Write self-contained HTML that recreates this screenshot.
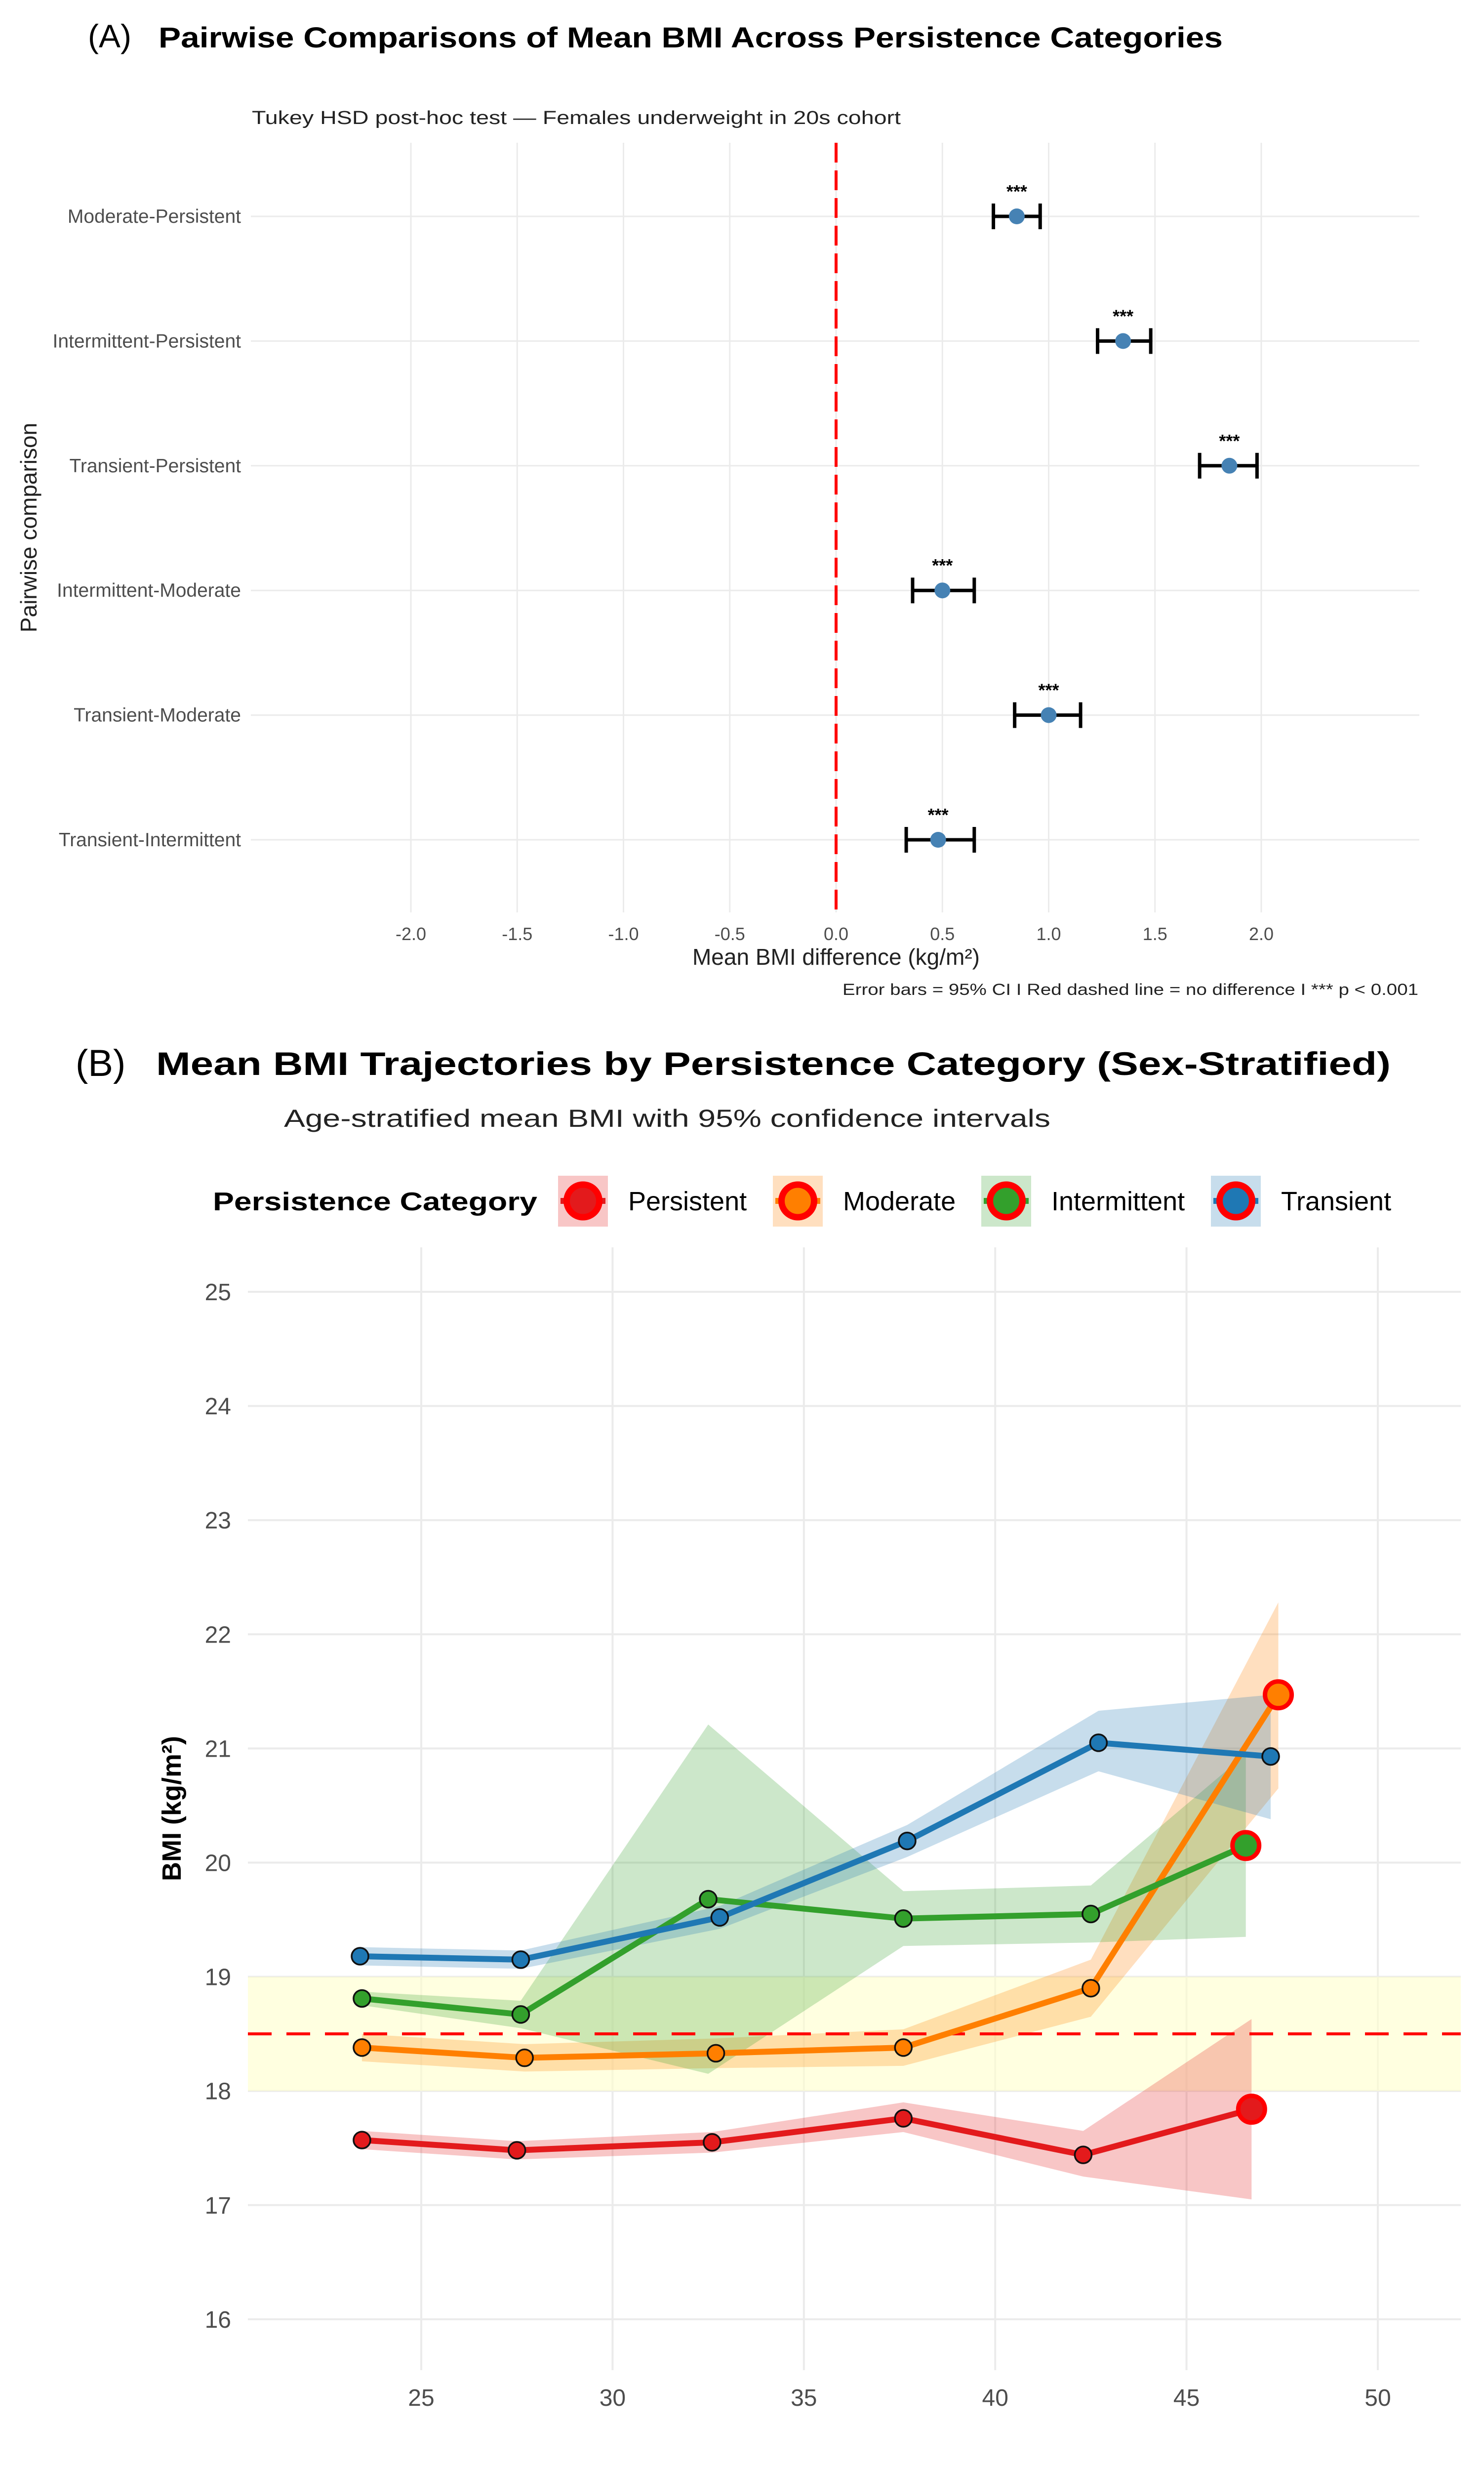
<!DOCTYPE html>
<html><head><meta charset="utf-8"><title>BMI Persistence Charts</title>
<style>
html,body{margin:0;padding:0;background:#fff;width:3005px;height:5136px;overflow:hidden;}
svg{display:block;font-family:"Liberation Sans",Arial,sans-serif;}
</style></head>
<body>
<svg id="root" width="3005" height="5136" viewBox="0 0 3005 5136" xmlns="http://www.w3.org/2000/svg">
  <rect x="0" y="0" width="3005" height="5136" fill="#fff"/>
  <text x="178" y="96" font-size="66" fill="#000">(A)</text>
  <text x="321" y="96" font-size="58" font-weight="bold" fill="#000" textLength="2155" lengthAdjust="spacingAndGlyphs">Pairwise Comparisons of Mean BMI Across Persistence Categories</text>
  <text x="510" y="251" font-size="38" fill="#222" textLength="1314" lengthAdjust="spacingAndGlyphs">Tukey HSD post-hoc test — Females underweight in 20s cohort</text>
  <g id="panelA"></g>
  <text x="1693" y="1953" font-size="46" fill="#222" text-anchor="middle">Mean BMI difference (kg/m²)</text>
  <text x="2872" y="2014" font-size="32" fill="#222" text-anchor="end" textLength="1166" lengthAdjust="spacingAndGlyphs">Error bars = 95% CI  I  Red dashed line = no difference  I  *** p &lt; 0.001</text>
  <text transform="translate(74,1068) rotate(-90)" font-size="46" fill="#222" text-anchor="middle">Pairwise comparison</text>

  <text x="153" y="2178" font-size="76" fill="#000">(B)</text>
  <text x="316" y="2176" font-size="66" font-weight="bold" fill="#000" textLength="2500" lengthAdjust="spacingAndGlyphs">Mean BMI Trajectories by Persistence Category (Sex-Stratified)</text>
  <text x="575" y="2281" font-size="50" fill="#222" textLength="1552" lengthAdjust="spacingAndGlyphs">Age-stratified mean BMI with 95% confidence intervals</text>
  <g id="legend">
    <text x="431" y="2450" font-size="52" font-weight="bold" fill="#000" textLength="657" lengthAdjust="spacingAndGlyphs">Persistence Category</text>
  </g>
  <g id="panelB"></g>
  <text transform="translate(366,3661) rotate(-90)" font-size="54" font-weight="bold" fill="#000" text-anchor="middle">BMI (kg/m²)</text>
  <text x="523" y="5040" font-size="44" fill="#999" textLength="2237" lengthAdjust="spacingAndGlyphs">Shaded areas = 95% CI I Red dashed line = BMI 18.5 cutoff I Yellow = Threshold zone (18.0-19.0)</text>
  <text x="523" y="5098" font-size="44" fill="#999">Red circles = n&lt;20 observations</text>
</svg>
<script>
// ---------- Panel A data ----------
const compCategories = ["Moderate-Persistent","Intermittent-Persistent","Transient-Persistent","Intermittent-Moderate","Transient-Moderate","Transient-Intermittent"];
const compDiff = [0.85, 1.35, 1.85, 0.50, 1.00, 0.48];
const compLower = [0.74, 1.23, 1.71, 0.36, 0.84, 0.33];
const compUpper = [0.96, 1.48, 1.98, 0.65, 1.15, 0.65];
const compSig = ["***","***","***","***","***","***"];
const aTicks = [-2.0,-1.5,-1.0,-0.5,0.0,0.5,1.0,1.5,2.0];
const aTickLabels = ["-2.0","-1.5","-1.0","-0.5","0.0","0.5","1.0","1.5","2.0"];

// ---------- Panel B data ----------
const groups = ["Persistent","Moderate","Intermittent","Transient"];
const persistentAge = [23.45, 27.5, 32.6, 37.6, 42.3, 46.7];
const persistentBMI = [17.57, 17.48, 17.55, 17.76, 17.44, 17.84];
const persistentLo  = [17.49, 17.40, 17.46, 17.64, 17.25, 17.05];
const persistentHi  = [17.65, 17.56, 17.64, 17.90, 17.65, 18.63];
const moderateAge = [23.45, 27.7, 32.7, 37.6, 42.5, 47.4];
const moderateBMI = [18.38, 18.29, 18.33, 18.38, 18.90, 21.47];
const moderateLo  = [18.26, 18.17, 18.20, 18.22, 18.65, 20.65];
const moderateHi  = [18.50, 18.41, 18.46, 18.54, 19.15, 22.28];
const intermittentAge = [23.45, 27.6, 32.5, 37.6, 42.5, 46.55];
const intermittentBMI = [18.81, 18.67, 19.68, 19.51, 19.55, 20.15];
const intermittentLo  = [18.75, 18.55, 18.15, 19.27, 19.30, 19.35];
const intermittentHi  = [18.87, 18.79, 21.21, 19.75, 19.80, 20.95];
const transientAge = [23.4, 27.6, 32.8, 37.7, 42.7, 47.2];
const transientBMI = [19.18, 19.15, 19.52, 20.19, 21.05, 20.93];
const transientLo  = [19.10, 19.07, 19.42, 20.05, 20.80, 20.38];
const transientHi  = [19.26, 19.23, 19.62, 20.33, 21.33, 21.47];
const persistentSmallN = [false,false,false,false,false,true];
const moderateSmallN = [false,false,false,false,false,true];
const intermittentSmallN = [false,false,false,false,false,true];
const transientSmallN = [false,false,false,false,false,false];
const bXTicks = [25,30,35,40,45,50];
const bYTicks = [16,17,18,19,20,21,22,23,24,25];
const cutoffBMI = 18.5;
const zoneLow = 18.0;
const zoneHigh = 19.0;

const NS = "http://www.w3.org/2000/svg";
function mk(tag, attrs, parent) {
  const e = document.createElementNS(NS, tag);
  for (const k in attrs) e.setAttribute(k, attrs[k]);
  parent.appendChild(e);
  return e;
}

// ---------- Panel A ----------
(function(){
  const g = document.getElementById('panelA');
  const L = 508, R = 2874, T = 289, B = 1847;
  const x = v => 1693 + v * 430.5;
  const y = i => 438 + i * 252.4;
  aTicks.forEach((t, i) => {
    const ln = mk('line', {x1:x(t), x2:x(t), y1:T, y2:B, stroke:'#ebebeb', 'stroke-width':3}, g);
    
    
    const tx = mk('text', {x:x(t), y:1903, 'font-size':36, fill:'#4d4d4d', 'text-anchor':'middle'}, g);
    tx.textContent = aTickLabels[i];
    
    
  });
  compCategories.forEach((c, i) => {
    const ln = mk('line', {x1:L, x2:R, y1:y(i), y2:y(i), stroke:'#ebebeb', 'stroke-width':3}, g);
    
    
    const tx = mk('text', {x:488, y:y(i)+13, 'font-size':39, fill:'#4d4d4d', 'text-anchor':'end'}, g);
    tx.textContent = c;
    
    
  });
  const zl = mk('line', {x1:x(0), x2:x(0), y1:T, y2:B, stroke:'#ff0000', 'stroke-width':6, 'stroke-dasharray':'40 16'}, g);
  
  
  compCategories.forEach((c, i) => {
    const cy = y(i);
    const eb = mk('g', {}, g);
    
    
    mk('line', {x1:x(compLower[i]), x2:x(compUpper[i]), y1:cy, y2:cy, stroke:'#000', 'stroke-width':7}, eb);
    mk('line', {x1:x(compLower[i]), x2:x(compLower[i]), y1:cy-26, y2:cy+26, stroke:'#000', 'stroke-width':7}, eb);
    mk('line', {x1:x(compUpper[i]), x2:x(compUpper[i]), y1:cy-26, y2:cy+26, stroke:'#000', 'stroke-width':7}, eb);
    const pt = mk('circle', {cx:x(compDiff[i]), cy:cy, r:16, fill:'#4682b4'}, g);
    
    
    const st = mk('text', {x:x(compDiff[i]), y:cy-38, 'font-size':36, 'font-weight':'bold', fill:'#000', 'text-anchor':'middle'}, g);
    st.textContent = compSig[i];
    
    
  });
})();

// ---------- Panel B ----------
(function(){
  const g = document.getElementById('panelB');
  const L = 502, R = 2958, T = 2525, B = 4798;
  const x = v => 853 + (v - 25) * 77.48;
  const y = v => 2615 - (v - 25) * 231.1;
  const colors = ['#e31a1c','#ff7f00','#33a02c','#1f78b4'];
  const ages = [persistentAge, moderateAge, intermittentAge, transientAge];
  const bmis = [persistentBMI, moderateBMI, intermittentBMI, transientBMI];
  const los = [persistentLo, moderateLo, intermittentLo, transientLo];
  const his = [persistentHi, moderateHi, intermittentHi, transientHi];
  const smalls = [persistentSmallN, moderateSmallN, intermittentSmallN, transientSmallN];

  bYTicks.forEach(t => {
    const ln = mk('line', {x1:L, x2:R, y1:y(t), y2:y(t), stroke:'#ebebeb', 'stroke-width':4}, g);
    
    
    const tx = mk('text', {x:468, y:y(t)+17, 'font-size':48, fill:'#4d4d4d', 'text-anchor':'end'}, g);
    tx.textContent = String(t);
    
    
  });
  bXTicks.forEach(t => {
    const ln = mk('line', {x1:x(t), x2:x(t), y1:T, y2:B, stroke:'#ebebeb', 'stroke-width':4}, g);
    
    
    const tx = mk('text', {x:x(t), y:4870, 'font-size':48, fill:'#4d4d4d', 'text-anchor':'middle'}, g);
    tx.textContent = String(t);
    
    
  });
  const zone = mk('rect', {x:L, y:y(zoneHigh), width:R-L, height:y(zoneLow)-y(zoneHigh), fill:'#ffffcc', opacity:0.6}, g);
  
  

  groups.forEach((name, k) => {
    let d = '';
    ages[k].forEach((a, i) => { d += (i ? 'L' : 'M') + x(a) + ',' + y(his[k][i]); });
    for (let i = ages[k].length - 1; i >= 0; i--) d += 'L' + x(ages[k][i]) + ',' + y(los[k][i]);
    const p = mk('path', {d:d + 'Z', fill:colors[k], opacity:0.25}, g);
    
    
  });
  const cut = mk('line', {x1:L, x2:R, y1:y(cutoffBMI), y2:y(cutoffBMI), stroke:'#ff0000', 'stroke-width':6, 'stroke-dasharray':'48 30'}, g);
  
  
  groups.forEach((name, k) => {
    const pts = ages[k].map((a, i) => x(a) + ',' + y(bmis[k][i])).join(' ');
    const pl = mk('polyline', {points:pts, fill:'none', stroke:colors[k], 'stroke-width':12, 'stroke-linejoin':'round'}, g);
    
    
  });
  groups.forEach((name, k) => {
    ages[k].forEach((a, i) => {
      let c;
      if (smalls[k][i]) {
        c = mk('circle', {cx:x(a), cy:y(bmis[k][i]), r:27, fill:colors[k], stroke:'#ff0000', 'stroke-width':9}, g);
      } else {
        c = mk('circle', {cx:x(a), cy:y(bmis[k][i]), r:17, fill:colors[k], stroke:'#111', 'stroke-width':3.5}, g);
      }
      
      
    });
  });

  const lg = document.getElementById('legend');
  const keyX = [1130, 1565, 1987, 2452];
  groups.forEach((name, k) => {
    const item = mk('g', {}, lg);
    
    
    mk('rect', {x:keyX[k], y:2380, width:101, height:103, fill:colors[k], opacity:0.25}, item);
    mk('line', {x1:keyX[k]+5, x2:keyX[k]+96, y1:2431, y2:2431, stroke:colors[k], 'stroke-width':12}, item);
    mk('circle', {cx:keyX[k]+50.5, cy:2431, r:33, fill:colors[k], stroke:'#ff0000', 'stroke-width':13}, item);
    const t = mk('text', {x:keyX[k]+142, y:2450, 'font-size':54, fill:'#000'}, item);
    t.textContent = name;
  });
})();
</script>
</body></html>
